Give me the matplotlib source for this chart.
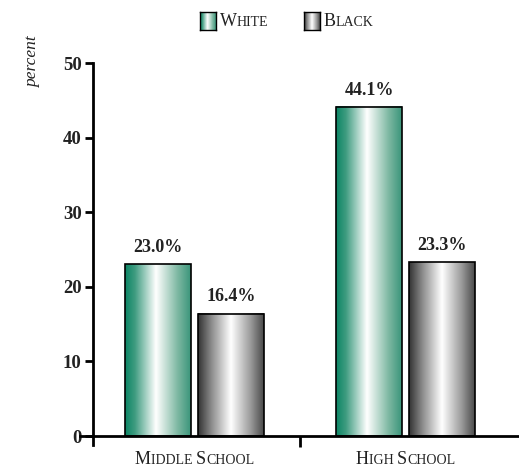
import numpy as np
import matplotlib
matplotlib.use("Agg")
import matplotlib.pyplot as plt
from matplotlib.colors import LinearSegmentedColormap
from matplotlib.offsetbox import TextArea, HPacker, AnnotationBbox

# survey results, percent
groups = ["Middle School", "High School"]
series = ["White", "Black"]
white = [23.0, 44.1]
black = [16.4, 23.3]

SERIF = "Liberation Serif"
INK = "#222222"

green_cmap = LinearSegmentedColormap.from_list(
    "green", [(0.0, "#0b8565"), (0.15, "#3f9c80"), (0.47, "#ffffff"),
              (0.8, "#7db8a2"), (1.0, "#3b957a")])
gray_cmap = LinearSegmentedColormap.from_list(
    "gray", [(0.0, "#333333"), (0.2, "#8a8a8a"), (0.5, "#ffffff"),
             (0.8, "#9a9a9a"), (1.0, "#4a4a4a")])
grad = np.linspace(0, 1, 256).reshape(1, -1)

fig = plt.figure(figsize=(5.19, 4.71), dpi=100)
ax = fig.add_axes([0.1541, 0.0552, 0.8459, 0.811])

x = np.arange(len(groups))
w = 0.3128
off = 0.173
bars_w = ax.bar(x - off, white, w, facecolor="none", edgecolor="black", linewidth=1.2, zorder=3)
bars_b = ax.bar(x + off, black, w, facecolor="none", edgecolor="black", linewidth=1.2, zorder=3)

for bars, cmap, vals in [(bars_w, green_cmap, white), (bars_b, gray_cmap, black)]:
    for rect, v in zip(bars, vals):
        x0, bw, h = rect.get_x(), rect.get_width(), rect.get_height()
        ax.imshow(grad, cmap=cmap, aspect="auto", extent=[x0, x0 + bw, 0, h], zorder=2)
        ax.annotate(f"{v:.1f}%", (x0 + bw / 2, h), xytext=(0, 6), textcoords="offset points",
                    ha="center", va="bottom", fontsize=13, fontweight="bold", family=SERIF,
                    color=INK)

ax.set_xlim(-0.543, 1.538)
ax.set_ylim(-1.2, 50)

for s in ["top", "right"]:
    ax.spines[s].set_visible(False)
ax.spines["left"].set_position(("data", -0.483))
ax.spines["bottom"].set_position(("data", 0))
ax.spines["left"].set_linewidth(2)
ax.spines["bottom"].set_linewidth(2)

ax.set_yticks(range(0, 51, 10))
ax.set_xticks([0.5])
ax.set_xticklabels([""])
ax.tick_params(axis="y", direction="out", length=6, width=2, pad=2)
ax.tick_params(axis="x", direction="out", length=8, width=2)
for lab in ax.get_yticklabels():
    lab.set_fontfamily(SERIF)
    lab.set_fontweight("bold")
    lab.set_fontsize(13.5)
    lab.set_color(INK)

fig.text(0.064, 0.868, "percent", rotation=90, ha="center", va="center",
         fontsize=12.5, style="italic", family=SERIF, color=INK)


def small_caps(text, big=13, small=10):
    words = text.split()
    parts = []
    for i, word in enumerate(words):
        rest = word[1:].upper() + (" " if i < len(words) - 1 else "")
        parts.append(TextArea(word[0], textprops=dict(fontsize=big, family=SERIF, color=INK)))
        parts.append(TextArea(rest, textprops=dict(fontsize=small, family=SERIF, color=INK)))
    return HPacker(children=parts, align="baseline", pad=0, sep=0)


for xi, g in zip(x, groups):
    ab = AnnotationBbox(small_caps(g), (xi, 0), xycoords="data", xybox=(0, -11),
                        boxcoords="offset points", box_alignment=(0.5, 1.0), frameon=False)
    ax.add_artist(ab)

# legend drawn by hand: gradient swatches plus small-caps labels
for cmap, label, px in [(green_cmap, "White", 200), (gray_cmap, "Black", 304)]:
    sw = fig.add_axes([px / 519, 1 - 30 / 471, 16 / 519, 18 / 471])
    sw.imshow(grad, cmap=cmap, aspect="auto")
    sw.set_xticks([])
    sw.set_yticks([])
    for sp in sw.spines.values():
        sp.set_linewidth(1)
    ab = AnnotationBbox(small_caps(label), ((px + 20) / 519, 1 - 21 / 471),
                        xycoords="figure fraction", box_alignment=(0, 0.5), frameon=False)
    fig.add_artist(ab)

fig.savefig("out.png", dpi=100)
